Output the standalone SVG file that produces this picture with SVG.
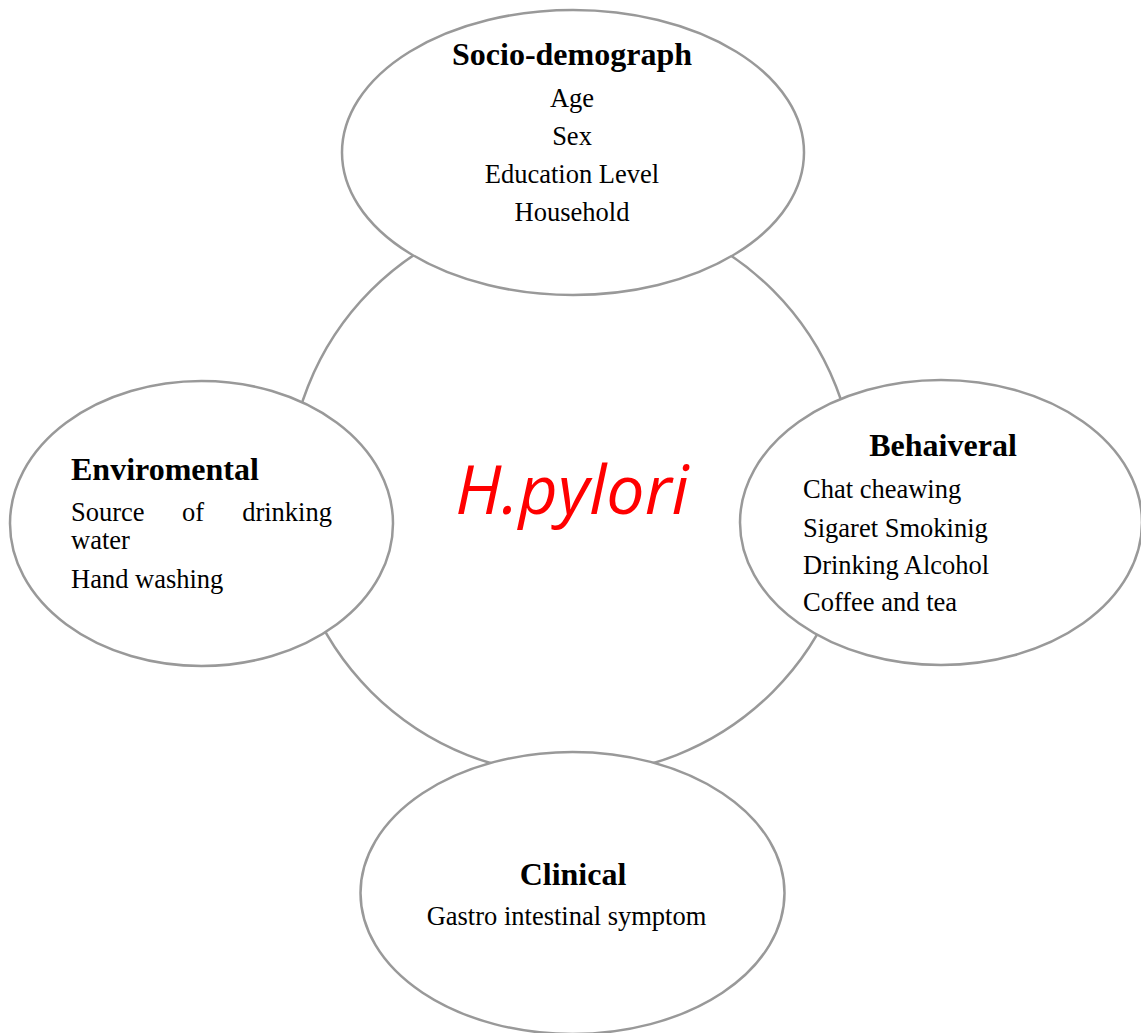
<svg xmlns="http://www.w3.org/2000/svg" width="1141" height="1033" viewBox="0 0 1141 1033">
<style>
.shape{fill:#ffffff;stroke:#999999;stroke-width:2.5}
.ring{fill:none;stroke:#999999;stroke-width:2.5}
.h{font-family:"Liberation Serif","Times New Roman",serif;font-weight:bold;font-size:32px;fill:#000}
.t{font-family:"Liberation Serif","Times New Roman",serif;font-size:26.5px;fill:#000}
.c{text-anchor:middle}
.center{font-family:"Open Sans","Noto Sans",sans-serif;font-style:italic;font-size:68px;fill:#ff0000;text-anchor:middle}
</style>
<rect width="1141" height="1033" fill="#ffffff"/>
<g id="connectors">
<circle class="ring" cx="572" cy="491" r="284"/>
</g>
<g id="hpylori">
<text class="center" x="572" y="514">H.pylori</text>
</g>
<g id="socio-demograph">
<ellipse class="shape" cx="573" cy="152.5" rx="231" ry="142.5"/>
<text class="h c" x="572" y="65">Socio-demograph</text>
<text class="t c" x="572" y="107">Age</text>
<text class="t c" x="572" y="145">Sex</text>
<text class="t c" x="572" y="183">Education Level</text>
<text class="t c" x="572" y="221">Household</text>
</g>
<g id="enviromental">
<ellipse class="shape" cx="201.5" cy="523.5" rx="191.5" ry="142.5"/>
<text class="h" x="71" y="480">Enviromental</text>
<text class="t" x="71" y="521">Source</text>
<text class="t" x="182" y="521">of</text>
<text class="t" x="332" y="521" text-anchor="end">drinking</text>
<text class="t" x="71" y="549">water</text>
<text class="t" x="71" y="588">Hand washing</text>
</g>
<g id="behaiveral">
<ellipse class="shape" cx="941" cy="522.5" rx="201" ry="142.5"/>
<text class="h c" x="943" y="456">Behaiveral</text>
<text class="t" x="803" y="498">Chat cheawing</text>
<text class="t" x="803" y="537">Sigaret Smokinig</text>
<text class="t" x="803" y="574">Drinking Alcohol</text>
<text class="t" x="803" y="611">Coffee and tea</text>
</g>
<g id="clinical">
<ellipse class="shape" cx="572.5" cy="893" rx="212" ry="141"/>
<text class="h c" x="573" y="885">Clinical</text>
<text class="t c" x="566.5" y="925">Gastro intestinal symptom</text>
</g>
</svg>
